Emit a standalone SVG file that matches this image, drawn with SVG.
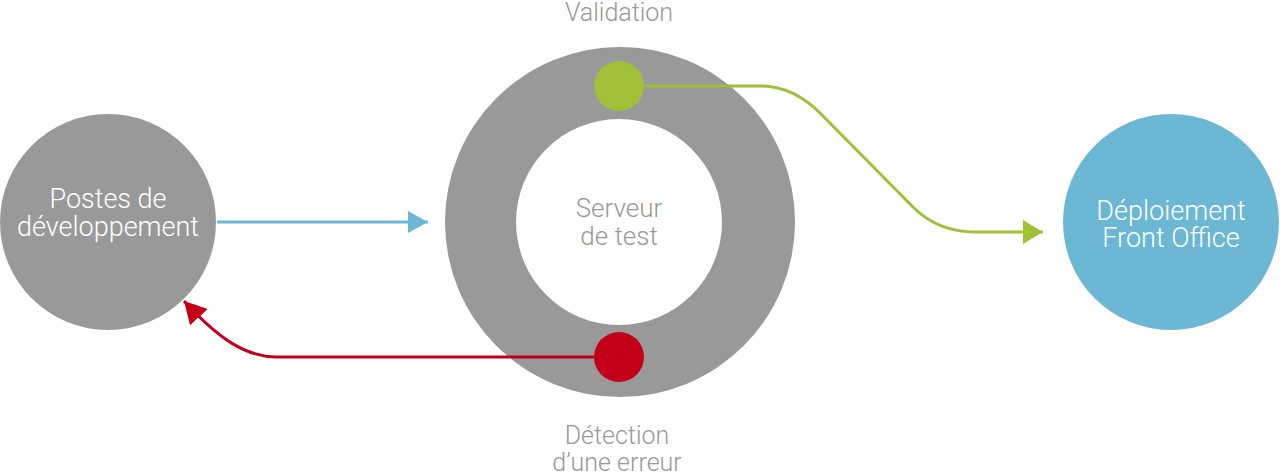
<svg xmlns="http://www.w3.org/2000/svg" width="1280" height="474" viewBox="0 0 1280 474">
  <style>
    .lbl { font-family: Roboto, "Liberation Sans", sans-serif; font-weight: 300; font-size: 25px; text-anchor: middle; }
    .big { font-size: 27px; }
    .mid { font-size: 26px; }
    .w { fill: #ffffff; }
    .g { fill: #999999; }
    .conn { fill: none; stroke-width: 3; }
  </style>
  <defs>
    <marker id="ah-blue" markerUnits="userSpaceOnUse" markerWidth="20" markerHeight="22" refX="20" refY="11" orient="auto">
      <path d="M0,0 L20,11 L0,22 Z" fill="#6bb7d4"/>
    </marker>
    <marker id="ah-green" markerUnits="userSpaceOnUse" markerWidth="20" markerHeight="24" refX="20" refY="12" orient="auto">
      <path d="M0,0 L20,12 L0,24 Z" fill="#a0c037"/>
    </marker>
    <marker id="ah-red" markerUnits="userSpaceOnUse" markerWidth="22" markerHeight="24" refX="22" refY="12" orient="auto">
      <path d="M0,0 L22,12 L0,24 Z" fill="#c40018"/>
    </marker>
  </defs>

  <!-- test server ring -->
  <g id="serveur-test">
    <circle cx="620" cy="222" r="175" fill="#999999"/>
    <circle cx="619" cy="222" r="103" fill="#ffffff"/>
    <text class="lbl mid g" x="619" y="217">Serveur</text>
    <text class="lbl mid g" x="619" y="245">de test</text>
  </g>

  <!-- connectors -->
  <g id="connectors">
    <path class="conn" stroke="#6bb7d4" d="M217,222 H428" marker-end="url(#ah-blue)"/>
    <path class="conn" stroke="#a0c037" d="M645,86 H760 C785,86 805,98 820,113 L913,207 C930,224 950,232 975,232 H1043" marker-end="url(#ah-green)"/>
    <path class="conn" stroke="#c40018" d="M594,357 H277 C245,357 218,338 184,301" marker-end="url(#ah-red)"/>
  </g>

  <g id="postes-dev">
    <circle cx="108" cy="222" r="108" fill="#999999"/>
    <text class="lbl big w" x="108" y="208">Postes de</text>
    <text class="lbl big w" x="108" y="236">développement</text>
  </g>

  <g id="validation">
    <circle cx="619" cy="86" r="25" fill="#a0c037"/>
    <text class="lbl g" x="619" y="21">Validation</text>
  </g>

  <g id="detection-erreur">
    <circle cx="619" cy="357" r="25" fill="#c40018"/>
    <text class="lbl g" x="617" y="444">Détection</text>
    <text class="lbl g" x="617" y="471">d’une erreur</text>
  </g>

  <g id="deploiement-fo">
    <circle cx="1171" cy="222" r="108" fill="#6bb7d4"/>
    <text class="lbl big w" x="1171" y="220">Déploiement</text>
    <text class="lbl big w" x="1171" y="247">Front Office</text>
  </g>
</svg>
